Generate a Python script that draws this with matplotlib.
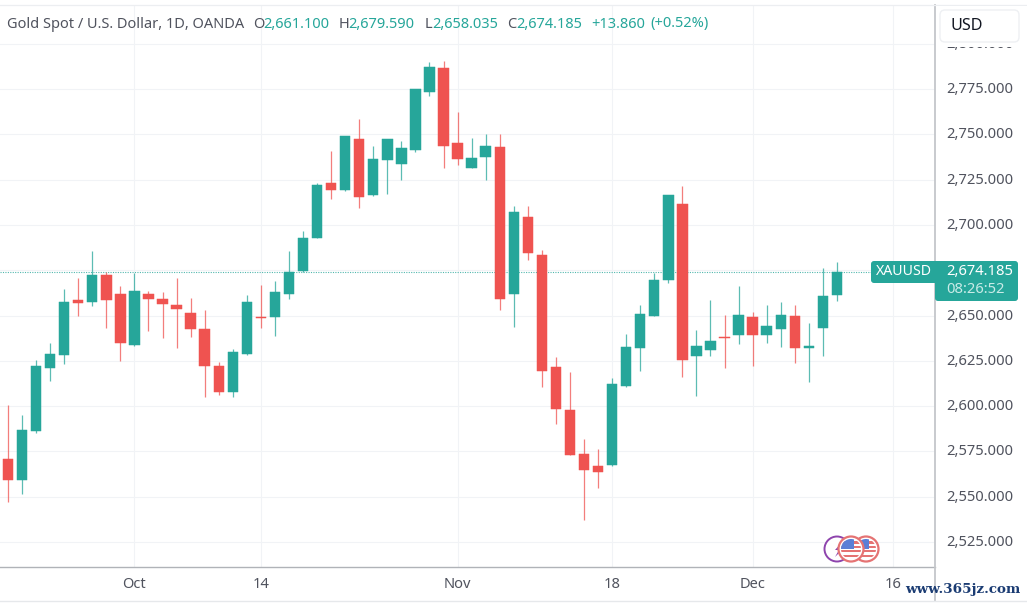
import matplotlib
matplotlib.use("Agg")
import matplotlib.pyplot as plt
from matplotlib.lines import Line2D
from matplotlib.patches import Rectangle, FancyBboxPatch, Circle, Polygon
from matplotlib.transforms import Affine2D, ScaledTranslation

opens = [2570.6,2559.4,2586.4,2621.2,2628.0,2658.5,2657.6,2672.3,2661.7,2633.5,
         2662.0,2658.9,2655.8,2651.4,2642.3,2622.1,2607.8,2628.7,2649.0,2649.3,
         2662.0,2674.5,2692.9,2723.1,2719.1,2747.4,2716.3,2735.8,2733.8,2741.3,
         2773.3,2786.9,2745.4,2731.6,2737.3,2743.0,2662.0,2704.2,2683.5,2621.4,
         2597.8,2573.7,2566.7,2567.3,2610.9,2632.2,2649.7,2669.6,2711.4,2627.6,
         2631.1,2638.0,2639.2,2649.2,2639.1,2642.6,2649.5,2631.9,2643.1,2661.1]
highs = [2600.4,2595.2,2625.4,2635.0,2664.6,2670.5,2685.6,2674.3,2666.3,2673.6,
         2663.3,2662.8,2670.5,2659.8,2653.0,2624.3,2631.5,2661.3,2666.8,2668.8,
         2685.6,2696.4,2722.9,2740.6,2749.2,2758.4,2743.3,2747.7,2746.1,2774.9,
         2790.1,2790.6,2762.3,2748.1,2750.1,2750.0,2710.6,2710.6,2686.1,2627.3,
         2619.0,2581.8,2576.1,2615.3,2639.6,2655.6,2673.6,2716.6,2721.7,2642.0,
         2658.4,2650.1,2666.5,2651.7,2655.8,2657.5,2655.8,2646.0,2676.4,2679.59]
lows = [2547.2,2551.5,2584.9,2614.0,2623.2,2649.9,2655.4,2643.3,2625.0,2633.0,
        2641.4,2637.4,2632.2,2638.3,2605.2,2605.9,2605.0,2628.2,2643.3,2638.7,
        2659.3,2674.2,2692.6,2714.3,2718.9,2709.1,2716.0,2717.2,2724.9,2740.0,
        2770.9,2731.6,2733.0,2731.4,2724.9,2652.8,2643.8,2680.4,2610.7,2590.1,
        2572.8,2537.1,2554.6,2567.1,2610.7,2619.2,2649.5,2668.1,2615.9,2605.8,
        2627.6,2621.2,2634.3,2622.3,2634.6,2632.6,2624.0,2613.1,2627.8,2658.035]
closes = [2559.4,2586.8,2622.1,2628.7,2657.4,2656.9,2672.3,2658.7,2634.8,2663.7,
          2659.1,2656.1,2653.7,2642.7,2622.1,2607.8,2630.0,2657.4,2648.4,2662.8,
          2674.0,2692.9,2722.0,2719.4,2749.0,2715.6,2736.3,2747.4,2742.2,2774.8,
          2787.3,2743.5,2736.2,2736.7,2743.7,2659.3,2706.9,2684.3,2619.5,2598.2,
          2573.0,2564.5,2563.4,2612.2,2632.4,2650.6,2669.6,2716.5,2625.4,2633.2,
          2635.9,2637.8,2650.3,2639.1,2644.0,2650.3,2631.9,2633.4,2660.6,2674.185]
x_tick_pos = [9, 18, 32, 43, 53, 63]
x_tick_labels = ["Oct", "14", "Nov", "18", "Dec", "16"]
price_ticks = [2525,2550,2575,2600,2625,2650,2675,2700,2725,2750,2775,2800]
last_price = 2674.185

UP, DOWN = "#26a69a", "#ef5350"
FONT = "Noto Sans"
TXT = "#50535e"
plt.rcParams["font.family"] = FONT

W, H = 1027, 605
fig = plt.figure(figsize=(W/100, H/100), dpi=100, facecolor="white")
ax = fig.add_axes([0, (H-567)/H, 935/W, 562/H])
ax.set_xlim(-0.569, 65.98)
ax.set_ylim(2511.2, 2821.4)
for s in ax.spines.values():
    s.set_visible(False)
ax.set_axisbelow(True)
ax.grid(True, color="#f1f3f6", lw=0.8)
ax.yaxis.tick_right()
ax.set_yticks(price_ticks)
ax.set_yticklabels([f"{p:,.3f}" for p in price_ticks])
ax.set_xticks(x_tick_pos)
ax.set_xticklabels(x_tick_labels)
ax.tick_params(axis="y", length=0, pad=8, labelsize=10.6, labelcolor=TXT)
ax.tick_params(axis="x", length=0, pad=7, labelsize=10.6, labelcolor=TXT)
lift = Affine2D().translate(0, 1.5)
for t in ax.get_yticklabels():
    t.set_transform(t.get_transform() + lift)

idx = list(range(len(opens)))
colors = [UP if c >= o else DOWN for o, c in zip(opens, closes)]
ax.vlines(idx, lows, highs, colors=colors, lw=0.9, alpha=0.75, zorder=2)
ax.bar(idx, [abs(c-o) for o, c in zip(opens, closes)],
       bottom=[min(o, c) for o, c in zip(opens, closes)],
       width=0.74, color=colors, edgecolor=colors, lw=0.35, zorder=3)
ax.axhline(last_price, color=UP, lw=0.8, ls=(0, (1, 1.2)), alpha=0.8, zorder=1.8)

# overlays in pixel space (origin top-left)
px = Affine2D().scale(1, -1).translate(0, H)
def add(a):
    a.set_transform(px)
    fig.add_artist(a)
    return a
def label(x, y, s, color=TXT, size=10.6, ha="left", **kw):
    return fig.text(x/W, 1-y/H, s, color=color, fontsize=size, ha=ha, va="center", **kw)

# separators
add(Line2D([0, 935], [567, 567], color="#b0b3b8", lw=1.0, zorder=3))
add(Line2D([935, 935], [5, 600], color="#c4c6ca", lw=1.3, zorder=3))
add(Line2D([0, W], [5, 5], color="#eceef1", lw=0.9, zorder=3))
add(Line2D([0, W], [600.5, 600.5], color="#e6e8eb", lw=1.0, zorder=3))

# header
hy = 24
G = "#26a69a"
H_TXT = 10.5
label(7, hy, "Gold Spot / U.S. Dollar, 1D, OANDA", size=H_TXT)
for xp, s, c in [(253, "O", TXT), (263, "2,661.100", G), (339, "H", TXT), (348, "2,679.590", G),
                 (425, "L", TXT), (432, "2,658.035", G), (507, "C", TXT), (516, "2,674.185", G),
                 (591, "+13.860", G), (650, "(+0.52%)", G)]:
    label(xp, hy, s, color=c, size=H_TXT)

# USD button with fade covering the top tick label
add(Rectangle((936, 6), 91, 41, facecolor="white", edgecolor="none", zorder=3))
add(FancyBboxPatch((940, 10), 79, 32, boxstyle="round,pad=0,rounding_size=5",
                   facecolor="white", edgecolor="#eef0f3", lw=1, zorder=4))
label(951, 26, "USD", color="#131722", size=11.6, zorder=5)

# price labels
add(FancyBboxPatch((871, 261), 70, 22, boxstyle="round,pad=0,rounding_size=3",
                   facecolor=UP, edgecolor="none", zorder=4))
add(FancyBboxPatch((935, 261), 83, 40, boxstyle="round,pad=0,rounding_size=3",
                   facecolor=UP, edgecolor="none", zorder=4))
label(876, 271.5, "XAUUSD", color="white", size=10.2, zorder=5)
label(946, 271.5, f"{last_price:,.3f}", color="white", size=10.6, zorder=5)
label(946, 289.5, "08:26:52", color="#c9ebe7", size=10.6, zorder=5)

# badges
def flag(cx, cy, r, z):
    add(Circle((cx, cy), r, facecolor="white", edgecolor="#e57373", lw=1.6, zorder=z))
    clip = Circle((cx, cy), r-2.5, transform=px)
    for k in range(-3, 4, 2):
        st = add(Rectangle((cx-r, cy+k*2.2-1.1), 2*r, 2.2, facecolor="#e57373", edgecolor="none", zorder=z+0.1))
        st.set_clip_path(clip)
    ca = add(Rectangle((cx-r, cy-r), r+2.5, r, facecolor="#5b7fd6", edgecolor="none", zorder=z+0.2))
    ca.set_clip_path(clip)
add(Circle((837, 549), 12.5, facecolor="white", edgecolor="#8e44ad", lw=1.4, zorder=4))
add(Polygon([(843, 541), (835, 550), (839, 550), (835, 557), (845, 547), (841, 547)],
            closed=True, facecolor="#8e44ad", edgecolor="none", zorder=4.1))
flag(866, 549, 12.5, 5)
flag(851, 549, 12.5, 6)

# watermark, scaled to the reference's width
wm = label(905, 590, "www.365jz.com", color="#1b3c73", size=10, family="DejaVu Serif",
           weight="bold", zorder=7)
fig.canvas.draw()
wm.set_fontsize(10 * 115 / wm.get_window_extent().width)

fig.savefig("out.png", dpi=100, facecolor="white")
